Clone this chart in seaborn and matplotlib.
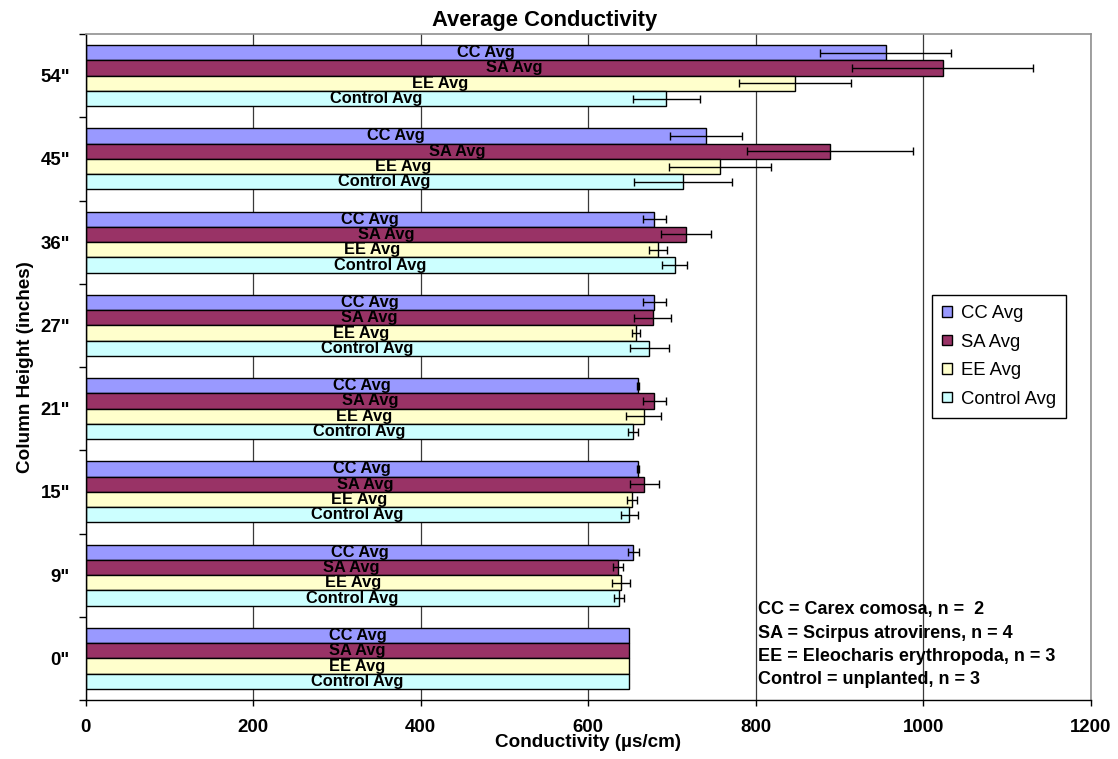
import numpy as np
import pandas as pd
import matplotlib
matplotlib.use("Agg")
import matplotlib.pyplot as plt
import seaborn as sns

# ---------------- data ----------------
heights = ['54"', '45"', '36"', '27"', '21"', '15"', '9"', '0"']
series = ["CC Avg", "SA Avg", "EE Avg", "Control Avg"]

cc_avg = [955, 740, 679, 679, 659, 659, 654, 649]
sa_avg = [1023, 888, 717, 677, 679, 667, 635, 649]
ee_avg = [847, 757, 683, 657, 666, 652, 639, 649]
ctrl_avg = [693, 713, 703, 673, 653, 649, 637, 649]

cc_err = [78, 43, 14, 14, 1, 1, 7, 0]
sa_err = [108, 99, 30, 22, 14, 17, 6, 0]
ee_err = [67, 61, 11, 5, 21, 6, 11, 0]
ctrl_err = [40, 58, 15, 23, 6, 10, 6, 0]

x_ticks = [0, 200, 400, 600, 800, 1000, 1200]

notes = [
    "CC = Carex comosa, n =  2",
    "SA = Scirpus atrovirens, n = 4",
    "EE = Eleocharis erythropoda, n = 3",
    "Control = unplanted, n = 3",
]

colors = ["#9999FF", "#993366", "#FFFFCC", "#CCFFFF"]

values = {"CC Avg": cc_avg, "SA Avg": sa_avg, "EE Avg": ee_avg, "Control Avg": ctrl_avg}
errors = {"CC Avg": cc_err, "SA Avg": sa_err, "EE Avg": ee_err, "Control Avg": ctrl_err}

df = pd.DataFrame(
    [{"height": h, "series": s, "value": values[s][i]}
     for s in series for i, h in enumerate(heights)]
)

# ---------------- style ----------------
sns.set_theme(style="white")
plt.rcParams["font.family"] = ["Liberation Sans", "DejaVu Sans"]
plt.rcParams["text.color"] = "black"
plt.rcParams["axes.labelcolor"] = "black"
plt.rcParams["xtick.color"] = "black"
plt.rcParams["ytick.color"] = "black"

fig = plt.figure(figsize=(11.18, 7.59), dpi=100)
ax = fig.add_axes([85.5 / 1118, 59 / 759, 1005.5 / 1118, 666 / 759])
ax.set_facecolor("white")

sns.barplot(
    data=df, x="value", y="height", hue="series",
    order=heights, hue_order=series,
    palette=dict(zip(series, colors)),
    orient="h", width=0.733, errorbar=None, saturation=1,
    edgecolor="black", linewidth=1.0, legend=False, ax=ax,
)

bar_containers = list(ax.containers)

# legend
leg = ax.legend(
    [c.patches[0] for c in bar_containers], series,
    loc="upper left", bbox_to_anchor=(0.842, 0.608),
    frameon=True, fancybox=False, framealpha=1, edgecolor="black",
    fontsize=13.3, handlelength=0.5, handleheight=0.5,
    handletextpad=0.5, labelspacing=0.62, borderpad=0.55, borderaxespad=0,
)
leg.get_frame().set_linewidth(1.0)
for t in leg.get_texts():
    t.set_color("black")

# series-name labels centred in each bar
for cont, s in zip(bar_containers, series):
    ax.bar_label(cont, labels=[s] * len(cont.patches), label_type="center",
                 fontsize=11.8, fontweight="bold", color="black")

# error bars drawn at each bar's end
for cont, s in zip(bar_containers, series):
    for p in cont.patches:
        yc = p.get_y() + p.get_height() / 2
        idx = int(round(yc))
        e = errors[s][idx]
        if e > 0:
            ax.errorbar(p.get_width(), yc, xerr=e, fmt="none", ecolor="black",
                        elinewidth=1.0, capsize=3, capthick=1.0, zorder=5)

# axes
ax.set_xlim(0, 1200)
ax.set_xticks(x_ticks)
ax.set_xticklabels([str(t) for t in x_ticks], fontsize=13.4, fontweight="bold")
ax.set_ylim(len(heights) - 0.5, -0.5)
ax.set_yticks(range(len(heights)))
ax.set_yticklabels(heights, fontsize=13.4, fontweight="bold")
ax.set_yticks(np.arange(-0.5, len(heights), 1), minor=True)

ax.tick_params(axis="y", which="major", length=0, pad=11.2)
ax.tick_params(axis="y", which="minor", length=5, width=1, color="black", direction="out", left=True)
ax.tick_params(axis="x", which="major", length=4.3, width=1, color="black", direction="out",
               bottom=True, pad=9.5)

ax.grid(axis="x", color="#3a3a3a", linewidth=0.9)
ax.grid(axis="y", visible=False)
ax.set_axisbelow(True)

for side in ["top", "right"]:
    ax.spines[side].set_color("#909090")
    ax.spines[side].set_linewidth(1.2)
for side in ["left", "bottom"]:
    ax.spines[side].set_color("black")
    ax.spines[side].set_linewidth(1.0)

ax.set_title("Average Conductivity", fontsize=15.8, fontweight="bold", pad=6,
             x=0.457, color="black")
ax.set_xlabel("Conductivity (µs/cm)", fontsize=13.6, fontweight="bold")
ax.set_ylabel("Column Height (inches)", fontsize=13.6, fontweight="bold")
ax.xaxis.set_label_coords(0.5, -0.051)
ax.yaxis.set_label_coords(-0.051, 0.5)

for t, yf in zip(notes, [0.1366, 0.1006, 0.066, 0.0315]):
    ax.text(0.669, yf, t, transform=ax.transAxes, fontsize=13, fontweight="bold",
            ha="left", va="center", color="black")

fig.savefig("out.png", dpi=100)
